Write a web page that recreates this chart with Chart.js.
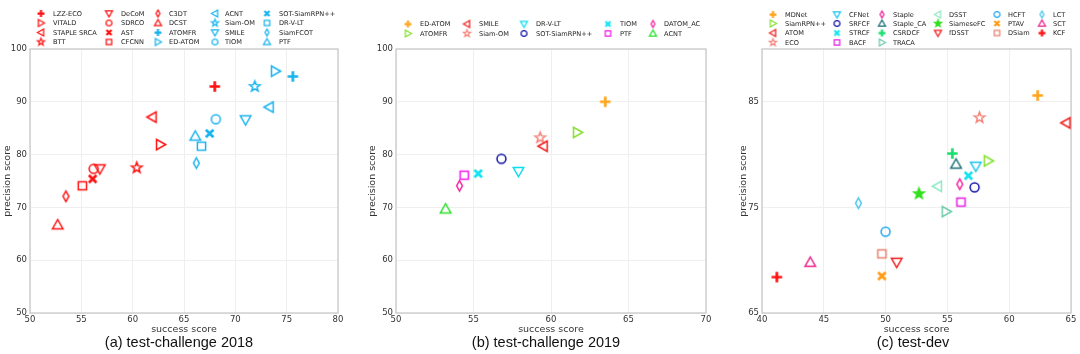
<!DOCTYPE html>
<html><head><meta charset="utf-8">
<script src="https://cdn.jsdelivr.net/npm/chart.js@4.4.1/dist/chart.umd.min.js"></script>
<style>
html,body{margin:0;padding:0;background:#fff;width:1080px;height:354px;overflow:hidden}
.p{position:absolute;top:0;width:360px;height:354px}
canvas{display:block}
</style></head><body>
<div class="p" style="left:0"><canvas id="c1" width="360" height="354"></canvas></div>
<div class="p" style="left:360px"><canvas id="c2" width="360" height="354"></canvas></div>
<div class="p" style="left:720px"><canvas id="c3" width="360" height="354"></canvas></div>
<script>
// ---------- (a) test-challenge 2018 ----------
const aNames = ['LZZ-ECO','VITALD','STAPLE SRCA','BTT','DeCoM','SDRCO','AST','CFCNN','C3DT','DCST','ATOMFR','ED-ATOM','ACNT','Siam-OM','SMILE','TIOM','SOT-SiamRPN++','DR-V-LT','SiamFCOT','PTF'];
const aSuccess = [68.0,62.7,61.9,60.4,56.8,56.2,56.1,55.1,53.5,52.7,75.6,73.9,73.3,71.9,71.0,68.1,67.5,66.7,66.2,66.1];
const aPrecision = [92.9,81.9,87.1,77.5,77.3,77.3,75.4,74.1,72.1,66.7,94.8,95.8,89.0,92.9,86.6,86.7,84.0,81.6,78.4,83.5];
const aXTicks = [50,55,60,65,70,75,80];
const aYTicks = [50,60,70,80,90,100];
const aCaption = '(a) test-challenge 2018';

// ---------- (b) test-challenge 2019 ----------
const bNames = ['ED-ATOM','ATOMFR','SMILE','Siam-OM','DR-V-LT','SOT-SiamRPN++','TIOM','PTF','DATOM_AC','ACNT'];
const bSuccess = [63.5,61.7,59.5,59.3,57.9,56.8,55.3,54.4,54.1,53.2];
const bPrecision = [90.0,84.2,81.6,83.2,76.8,79.2,76.4,76.1,74.1,69.7];
const bXTicks = [50,55,60,65,70];
const bYTicks = [50,60,70,80,90,100];
const bCaption = '(b) test-challenge 2019';

// ---------- (c) test-dev ----------
const cNames = ['MDNet','SiamRPN++','ATOM','ECO','CFNet','SRFCF','STRCF','BACF','Staple','Staple_CA','CSRDCF','TRACA','DSST','SiameseFC','fDSST','HCFT','PTAV','DSiam','LCT','SCT','KCF'];
const cSuccess = [62.3,58.3,64.6,57.6,57.3,57.2,56.7,56.1,56.0,55.7,55.4,54.9,54.2,52.7,50.9,50.0,49.7,49.7,47.8,43.9,41.2];
const cPrecision = [85.6,79.4,83.0,83.5,78.9,76.9,78.0,75.5,77.2,79.1,80.1,74.6,77.0,76.3,69.8,72.7,68.5,70.6,75.4,69.8,68.4];
const cXTicks = [40,45,50,55,60,65];
const cYTicks = [65,75,85];
const cCaption = '(c) test-dev';

// ---------- styles (markers / colours) ----------
const RED='#ff1010', BLUE='#18b4ef';
const aShapes = ['plus','tri_right','tri_left','star','tri_down','circle','x','square','diamond','tri_up','plus','tri_right','tri_left','star','tri_down','circle','x','square','diamond','tri_up'];
const aColors = [RED,RED,RED,RED,RED,RED,RED,RED,RED,RED,BLUE,BLUE,BLUE,BLUE,BLUE,BLUE,BLUE,BLUE,BLUE,BLUE];
const bShapes = ['plus','tri_right','tri_left','star','tri_down','circle','x','square','diamond','tri_up'];
const bColors = ['#ffa51c','#84e02c','#f01a1a','#f4847a','#10dcf0','#1414a8','#10e4f4','#f41cf0','#f0209a','#28e028'];
const cShapes = ['plus','tri_right','tri_left','star','tri_down','circle','x','square','diamond','tri_up','plus','tri_right','tri_left','starf','tri_down','circle','x','square','diamond','tri_up','plus'];
const cColors = ['#ffa51c','#84e02c','#f01a1a','#f4847a','#1cc4f0','#1414a8','#14e4f0','#e81ce8','#f0209a','#1a6e78','#14e06c','#6ccaa8','#8ee8c4','#30e01c','#f01a1a','#1ca8f0','#ff9a10','#e88070','#44c8ec','#f0208c','#ff1010'];

function makeMarker(shape,color,s,lw){
  const pad=Math.ceil(lw*2)+2, W=Math.ceil(s+2*pad);
  const c=document.createElement('canvas'); c.width=W; c.height=W;
  const g=c.getContext('2d'); g.translate(W/2,W/2);
  g.strokeStyle=color; g.fillStyle=color; g.lineWidth=lw; g.lineJoin='miter';
  const r=s/2; let fill=false;
  g.beginPath();
  switch(shape){
    case 'plus': g.lineWidth=lw*1.8; g.moveTo(-r,0); g.lineTo(r,0); g.moveTo(0,-r); g.lineTo(0,r); break;
    case 'x': { g.lineWidth=lw*1.8; const q=r*0.72; g.moveTo(-q,-q); g.lineTo(q,q); g.moveTo(q,-q); g.lineTo(-q,q); break; }
    case 'circle': g.arc(0,0,r*0.85,0,Math.PI*2); break;
    case 'square': { const h=r*0.78; g.rect(-h,-h,2*h,2*h); break; }
    case 'tri_up': g.moveTo(0,-r); g.lineTo(r,r*0.75); g.lineTo(-r,r*0.75); g.closePath(); break;
    case 'tri_down': g.moveTo(0,r); g.lineTo(r,-r*0.75); g.lineTo(-r,-r*0.75); g.closePath(); break;
    case 'tri_right': g.moveTo(r,0); g.lineTo(-r*0.75,-r); g.lineTo(-r*0.75,r); g.closePath(); break;
    case 'tri_left': g.moveTo(-r,0); g.lineTo(r*0.75,-r); g.lineTo(r*0.75,r); g.closePath(); break;
    case 'diamond': g.moveTo(0,-r); g.lineTo(r*0.55,0); g.lineTo(0,r); g.lineTo(-r*0.55,0); g.closePath(); break;
    case 'star': case 'starf': {
      const R=r*1.05, ri=R*0.42;
      for(let i=0;i<10;i++){ const ang=-Math.PI/2+i*Math.PI/5; const rr=i%2?ri:R; const px=rr*Math.cos(ang), py=rr*Math.sin(ang); i?g.lineTo(px,py):g.moveTo(px,py); }
      g.closePath(); if(shape==='starf') fill=true; break; }
  }
  if(fill) g.fill();
  g.stroke();
  return c;
}

const FONT='"DejaVu Sans", sans-serif';

function overlayPlugin(cfg){
  return {
    id:'overlay',
    beforeDatasetsDraw(chart){
      const a=chart.chartArea, g=chart.ctx;
      g.save(); g.strokeStyle='#c9c9c9'; g.lineWidth=1.3;
      g.strokeRect(a.left,a.top,a.right-a.left,a.bottom-a.top); g.restore();
    },
    afterDraw(chart){
      const g=chart.ctx; g.save();
      let idx=0;
      cfg.colCounts.forEach((n,col)=>{
        for(let row=0;row<n;row++){
          const i=idx++; const y=cfg.legRows[row];
          const m=cfg.legMarkers[i];
          g.drawImage(m, cfg.legMx[col]-m.width/2, y-m.height/2);
          g.font='6.6px '+FONT; g.fillStyle='#222'; g.textBaseline='middle'; g.textAlign='left';
          g.fillText(cfg.names[i], cfg.legTx[col], y+0.5);
        }
      });
      g.font='14.5px "Liberation Sans", Arial, sans-serif'; g.fillStyle='#111';
      g.textAlign='center'; g.textBaseline='middle';
      g.fillText(cfg.caption, cfg.capX, 343);
      g.restore();
    }
  };
}

function build(id, names, xs, ys, shapes, colors, xt, yt, caption, lay){
  const datasets = names.map((n,i)=>({
    label:n,
    data:[{x:xs[i], y:ys[i]}],
    pointStyle: makeMarker(shapes[i], colors[i], 10.5, 1.5),
    pointRadius:5, pointHoverRadius:5, clip:false
  }));
  const legMarkers = names.map((n,i)=>makeMarker(shapes[i], colors[i], 7, 1.25));
  new Chart(document.getElementById(id), {
    type:'scatter',
    data:{datasets},
    options:{
      responsive:false, animation:false, devicePixelRatio:1,
      layout:{padding:{left:lay.padL, right:lay.padR, top:49, bottom:19}},
      plugins:{legend:{display:false}, tooltip:{enabled:false}},
      scales:{
        x:{type:'linear', min:xt[0], max:xt[xt.length-1],
          afterBuildTicks:s=>{s.ticks=xt.map(v=>({value:v}));},
          afterFit:s=>{s.height=22;},
          ticks:{font:{family:FONT,size:8.5}, color:'#333', padding:2, maxRotation:0, autoSkip:false},
          grid:{color:'#efefef', drawTicks:false, lineWidth:1},
          border:{display:false},
          title:{display:true, text:'success score', font:{family:FONT,size:9.5}, color:'#333', padding:0}
        },
        y:{type:'linear', min:lay.ymin, max:lay.ymax,
          afterBuildTicks:s=>{s.ticks=yt.map(v=>({value:v}));},
          afterFit:s=>{s.width=lay.yW;},
          ticks:{font:{family:FONT,size:8.5}, color:'#333', padding:3, autoSkip:false},
          grid:{color:'#efefef', drawTicks:false, lineWidth:1},
          border:{display:false},
          title:{display:true, text:'precision score', font:{family:FONT,size:9.5}, color:'#333', padding:0}
        }
      }
    },
    plugins:[overlayPlugin({names, legMarkers, caption, colCounts:lay.colCounts, legRows:lay.legRows, legMx:lay.legMx, legTx:lay.legTx, capX:lay.capX})]
  });
}

build('c1', aNames, aSuccess, aPrecision, aShapes, aColors, aXTicks, aYTicks, aCaption,
  {padL:2, yW:28, padR:22, ymin:50, ymax:100, colCounts:[4,4,4,4,4], legRows:[13.5,23,32.5,42],
   legMx:[41,109,158,215,267], legTx:[53,121,169,225,279], capX:179});
build('c2', bNames, bSuccess, bPrecision, bShapes, bColors, bXTicks, bYTicks, bCaption,
  {padL:7, yW:29, padR:14, ymin:50, ymax:100, colCounts:[2,2,2,2,2], legRows:[24,33.5],
   legMx:[48,107,164,248,293], legTx:[60,119,176,260,304], capX:186});
build('c3', cNames, cSuccess, cPrecision, cShapes, cColors, cXTicks, cYTicks, cCaption,
  {padL:18, yW:24, padR:9, ymin:65, ymax:90, colCounts:[4,4,4,3,3,3], legRows:[14.5,23.5,33,42.5],
   legMx:[53,117,162,218,277,322], legTx:[65,129,173,229,288,333], capX:193});
</script>
</body></html>
